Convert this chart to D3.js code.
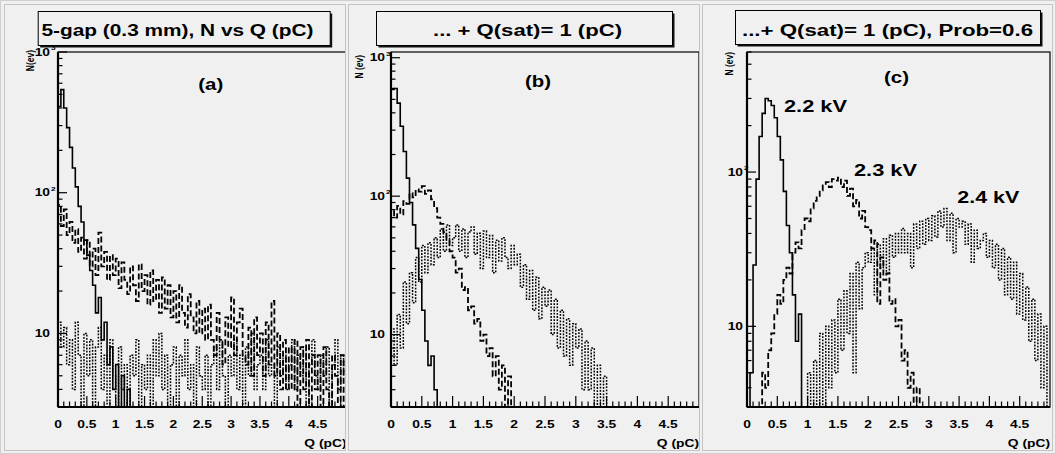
<!DOCTYPE html>
<html>
<head>
<meta charset="utf-8">
<script src="https://cdn.jsdelivr.net/npm/d3@7"></script>
<style>
  body { margin: 0; background: #f0f0f0; }
  text { font-family: "Liberation Sans", Arial, Helvetica, sans-serif; font-weight: bold; fill: #000; }
</style>
</head>
<body>
<svg id="chart" width="1056" height="454"></svg>
<script>
// ---- data: counts per 0.05 pC bin, Q from 0 to 5 pC (100 bins) ----
const binWidth = 0.05;
const qRange = [0, 5];

// panel (a): 5-gap, N vs Q
const a22 = [
  410, 540, 400, 290, 210, 150, 110, 80, 62, 46,
  36, 28, 22, 14, 18, 9, 12, 6, 8, 4,
  6, 3, 5, 2, 4, 0, 3, 3, 0, 0,
  0, 0, 0, 0, 0, 0, 0, 0, 0, 0,
  0, 0, 0, 0, 0, 0, 0, 0, 0, 0,
  0, 0, 0, 0, 0, 0, 0, 0, 0, 0,
  0, 0, 0, 0, 0, 0, 0, 0, 0, 0,
  0, 0, 0, 0, 0, 0, 0, 0, 0, 0,
  0, 0, 0, 0, 0, 0, 0, 0, 0, 0,
  0, 0, 0, 0, 0, 0, 0, 0, 0, 0
];
const a23 = [
  82, 58, 76, 50, 62, 44, 55, 38, 48, 34,
  46, 30, 40, 26, 52, 30, 38, 24, 36, 26,
  34, 21, 32, 24, 19, 30, 22, 17, 31, 20,
  26, 16, 28, 17, 24, 14, 25, 15, 22, 13,
  20, 12, 22, 14, 11, 19, 13, 10, 17, 10,
  15, 9, 16, 9, 7, 14, 9, 6, 13, 8,
  18, 7, 12, 15, 7, 6, 11, 5, 13, 7,
  10, 5, 12, 6, 17, 5, 10, 4, 9, 4,
  8, 4, 9, 3, 8, 4, 9, 3, 7, 4,
  7, 3, 8, 4, 3, 7, 5, 3, 7, 3
];
const a24 = [
  12, 8, 11, 6, 9, 4, 12, 7, 3, 10,
  5, 9, 3, 8, 11, 4, 7, 2, 9, 5,
  3, 8, 4, 6, 2, 7, 5, 9, 3, 6,
  4, 7, 3, 9, 5, 10, 4, 7, 3, 6,
  8, 3, 7, 5, 9, 4, 6, 3, 8, 5,
  4, 7, 3, 6, 8, 4, 9, 5, 3, 7,
  5, 9, 4, 7, 3, 8, 5, 10, 4, 6,
  7, 4, 9, 5, 6, 3, 8, 5, 7, 4,
  6, 9, 4, 7, 5, 8, 3, 6, 9, 5,
  4, 7, 5, 8, 3, 6, 9, 4, 7, 5
];

// panel (b): + Q(sat) = 1 pC
const b22 = [
  590, 600, 470, 320, 210, 135, 90, 62, 42, 25,
  15, 9, 6, 7, 4, 3, 0, 0, 0, 0,
  0, 0, 0, 0, 0, 0, 0, 0, 0, 0,
  0, 0, 0, 0, 0, 0, 0, 0, 0, 0,
  0, 0, 0, 0, 0, 0, 0, 0, 0, 0,
  0, 0, 0, 0, 0, 0, 0, 0, 0, 0,
  0, 0, 0, 0, 0, 0, 0, 0, 0, 0,
  0, 0, 0, 0, 0, 0, 0, 0, 0, 0,
  0, 0, 0, 0, 0, 0, 0, 0, 0, 0,
  0, 0, 0, 0, 0, 0, 0, 0, 0, 0
];
const b23 = [
  78, 70, 85, 74, 92, 88, 105, 98, 112, 108,
  118, 104, 110, 95, 82, 70, 63, 55, 48, 40,
  36, 28, 30, 21, 22, 15, 16, 12, 13, 9,
  10, 7, 8, 5, 7, 4, 6, 3, 5, 2,
  0, 0, 0, 0, 0, 0, 0, 0, 0, 0,
  0, 0, 0, 0, 0, 0, 0, 0, 0, 0,
  0, 0, 0, 0, 0, 0, 0, 0, 0, 0,
  0, 0, 0, 0, 0, 0, 0, 0, 0, 0,
  0, 0, 0, 0, 0, 0, 0, 0, 0, 0,
  0, 0, 0, 0, 0, 0, 0, 0, 0, 0
];
const b24 = [
  11, 6, 14, 8, 24, 12, 28, 17, 36, 24,
  44, 28, 46, 32, 50, 36, 58, 40, 62, 44,
  50, 62, 40, 58, 36, 55, 60, 38, 54, 30,
  56, 36, 52, 28, 48, 34, 50, 36, 30, 44,
  32, 38, 22, 32, 18, 29, 15, 26, 13, 22,
  16, 21, 10, 18, 8, 15, 7, 13, 6, 12,
  8, 11, 4, 9, 4, 8, 2, 6, 2, 5,
  0, 3, 0, 3, 0, 0, 0, 0, 0, 0,
  0, 0, 0, 0, 0, 0, 0, 0, 0, 0,
  0, 0, 0, 0, 0, 0, 0, 0, 0, 0
];

// panel (c): + Q(sat) = 1 pC, Prob = 0.6
const c22 = [
  0, 5, 25, 90, 170, 240, 300, 290, 270, 225,
  170, 120, 75, 45, 30, 16, 8, 12, 3, 0,
  0, 0, 0, 0, 0, 0, 0, 0, 0, 0,
  0, 0, 0, 0, 0, 0, 0, 0, 0, 0,
  0, 0, 0, 0, 0, 0, 0, 0, 0, 0,
  0, 0, 0, 0, 0, 0, 0, 0, 0, 0,
  0, 0, 0, 0, 0, 0, 0, 0, 0, 0,
  0, 0, 0, 0, 0, 0, 0, 0, 0, 0,
  0, 0, 0, 0, 0, 0, 0, 0, 0, 0,
  0, 0, 0, 0, 0, 0, 0, 0, 0, 0
];
const c23 = [
  0, 0, 0, 0, 3, 5, 4, 7, 9, 12,
  16, 14, 20, 24, 22, 30, 35, 32, 42, 50,
  48, 58, 65, 70, 76, 82, 86, 80, 90, 88,
  92, 80, 88, 70, 78, 60, 66, 50, 56, 44,
  42, 32, 36, 14, 28, 20, 22, 14, 15, 10,
  11, 6, 7, 4, 5, 3, 4, 0, 0, 0,
  0, 0, 0, 0, 0, 0, 0, 0, 0, 0,
  0, 0, 0, 0, 0, 0, 0, 0, 0, 0,
  0, 0, 0, 0, 0, 0, 0, 0, 0, 0,
  0, 0, 0, 0, 0, 0, 0, 0, 0, 0
];
const c24 = [
  0, 0, 0, 0, 0, 0, 0, 0, 0, 0,
  0, 0, 0, 0, 0, 0, 0, 0, 0, 3,
  5, 2, 6, 3, 9, 2, 10, 4, 11, 5,
  15, 7, 17, 9, 22, 5, 26, 13, 24, 30,
  26, 32, 16, 34, 24, 37, 22, 39, 28, 40,
  30, 43, 30, 40, 24, 46, 32, 48, 34, 50,
  36, 52, 38, 56, 44, 58, 36, 54, 30, 50,
  44, 48, 34, 46, 26, 42, 32, 36, 40, 28,
  36, 24, 34, 20, 32, 16, 28, 15, 26, 12,
  22, 11, 18, 8, 15, 6, 12, 4, 10, 3
];

const titles = ["5-gap (0.3 mm), N vs Q (pC)", "... + Q(sat)= 1 (pC)", "...+ Q(sat)= 1 (pC), Prob=0.6"];
const panelTags = ["(a)", "(b)", "(c)"];
const yTitles = ["N(ev)", "N (ev)", "N (ev)"];
const xTitle = "Q (pC)";
const voltageLabels = ["2.2 kV", "2.3 kV", "2.4 kV"];
const xTickValues = [0, 0.5, 1, 1.5, 2, 2.5, 3, 3.5, 4, 4.5];
const xTickLabels = ["0", "0.5", "1", "1.5", "2", "2.5", "3", "3.5", "4", "4.5"];
const yTickValues = [10, 100, 1000];
const yTickExps = ["", "2", "3"];
const yMaxes = [1000, 1100, 600];
const yMin = 3;

// ---- layout ----
const SX = 1.38; // the picture is stretched horizontally
const styles = [
  { dash: null, width: 1.6 },
  { dash: "6,3", width: 1.8 },
  { dash: "1.8,1.4", width: 1.5 }
];
const panels = [
  { pad: [4, 4, 341, 446], frame: [58, 346.5, 52, 407], box: [37.7, 11, 292, 34], titleX: 177.5, titleW: 272,
    tag: [210.7, 90, 25], yTitle: [34, 50], yGap: 8, series: [a22, a23, a24] },
  { pad: [348, 4, 351, 446], frame: [391, 699, 52, 407], box: [376, 11, 296, 34], titleX: 527.5, titleW: 189,
    tag: [538, 86.6, 26], yTitle: [362.5, 55], yGap: 6, series: [b22, b23, b24] },
  { pad: [702, 4, 350, 446], frame: [747, 1050, 52, 407], box: [735, 10, 305, 34], titleX: 887.5, titleW: 291,
    tag: [896.5, 83, 25], yTitle: [732.5, 52], yGap: 4, series: [c22, c23, c24] }
];
const voltagePos = [[784, 111.7, 63], [854, 176, 63], [957.3, 202.7, 62]];

const svg = d3.select("#chart");
svg.append("rect").attr("x", 0.5).attr("y", 0.5).attr("width", 1055).attr("height", 453)
  .attr("fill", "#f0f0f0").attr("stroke", "#cfcfcf");

function stretchText(g, x, y, str, size, anchor, width) {
  const t = g.append("text")
    .attr("transform", `translate(${x},${y}) scale(${SX},1)`)
    .attr("font-size", size)
    .attr("text-anchor", anchor || "start")
    .text(str);
  if (width) {
    t.attr("transform", `translate(${x},${y})`)
      .attr("textLength", width).attr("lengthAdjust", "spacingAndGlyphs");
  }
  return t;
}

panels.forEach((p, pi) => {
  const [px, py, pw, ph] = p.pad;
  const [l, r, t, b] = p.frame;
  const ymax = yMaxes[pi];

  svg.append("clipPath").attr("id", "pad" + pi)
    .append("rect").attr("x", px).attr("y", py).attr("width", pw).attr("height", ph);
  svg.append("clipPath").attr("id", "frame" + pi)
    .append("rect").attr("x", l).attr("y", t).attr("width", r - l).attr("height", b - t);

  // pad border
  svg.append("rect").attr("x", px + 0.5).attr("y", py + 0.5).attr("width", pw).attr("height", ph)
    .attr("fill", "#f0f0f0").attr("stroke", "#c4c4c4");

  const g = svg.append("g").attr("clip-path", `url(#pad${pi})`);

  const x = d3.scaleLinear().domain(qRange).range([l, r]);
  const y = d3.scaleLog().domain([yMin, ymax]).range([b, t]);

  // histograms
  const hg = g.append("g").attr("clip-path", `url(#frame${pi})`);
  const line = d3.line();
  p.series.forEach((vals, si) => {
    const pts = [[x(0), b]];
    vals.forEach((v, i) => {
      const yy = v > yMin ? y(Math.min(v, ymax)) : b;
      pts.push([x(i * binWidth), yy], [x((i + 1) * binWidth), yy]);
    });
    pts.push([x(vals.length * binWidth), b]);
    hg.append("path").attr("d", line(pts))
      .attr("fill", "none").attr("stroke", "#000")
      .attr("stroke-width", styles[si].width)
      .attr("stroke-dasharray", styles[si].dash)
      .attr("stroke-linejoin", "miter");
  });

  // frame
  g.append("rect").attr("x", l).attr("y", t).attr("width", r - l).attr("height", b - t)
    .attr("fill", "none").attr("stroke", "#000").attr("stroke-width", 1.2);
  g.append("line").attr("x1", l).attr("x2", r).attr("y1", b).attr("y2", b)
    .attr("stroke", "#000").attr("stroke-width", 2.2);
  g.append("line").attr("x1", l).attr("x2", l).attr("y1", t).attr("y2", b)
    .attr("stroke", "#000").attr("stroke-width", 2.2);

  // x ticks: major each 0.5, minor each 0.1
  const minor = d3.range(0, 50).map(i => i / 10);
  minor.forEach(q => {
    const major = Math.abs(q * 2 - Math.round(q * 2)) < 1e-6;
    g.append("line").attr("x1", x(q)).attr("x2", x(q))
      .attr("y1", b).attr("y2", b - (major ? 11 : 5.5))
      .attr("stroke", "#000").attr("stroke-width", 1.2);
  });
  xTickValues.forEach((q, i) => {
    stretchText(g, x(q), 428, xTickLabels[i], 10, "middle");
  });
  stretchText(g, r, 446.5, xTitle, 10, "end");

  // y ticks (log)
  [1, 10, 100, 1000].forEach(dec => {
    d3.range(1, 10).forEach(k => {
      const v = k * dec;
      if (v < yMin || v > ymax) return;
      g.append("line").attr("x1", l).attr("x2", l + (k === 1 ? 9 : 4.5))
        .attr("y1", y(v)).attr("y2", y(v))
        .attr("stroke", "#000").attr("stroke-width", 1.2);
    });
  });
  yTickValues.forEach((v, i) => {
    if (v > ymax) return;
    const bx = l - p.yGap;
    stretchText(g, bx, y(v) + 3.6, "10", 10, "end");
    if (yTickExps[i]) stretchText(g, bx + 1, y(v) - 2.2, yTickExps[i], 6, "start");
  });

  // y title, rotated
  g.append("text")
    .attr("transform", `translate(${p.yTitle[0]},${p.yTitle[1]}) scale(${SX},1) rotate(-90)`)
    .attr("font-size", 8.5).attr("text-anchor", "end").text(yTitles[pi]);

  // panel tag
  stretchText(g, p.tag[0] - p.tag[2] / 2, p.tag[1], panelTags[pi], 16, "start", p.tag[2]);

  // title box with shadow
  const [bx, by, bw, bh] = p.box;
  g.append("rect").attr("x", bx + 2.5).attr("y", by + 2.5).attr("width", bw).attr("height", bh).attr("fill", "#111");
  g.append("rect").attr("x", bx + 0.5).attr("y", by + 0.5).attr("width", bw).attr("height", bh)
    .attr("fill", "#f0f0f0").attr("stroke", "#000").attr("stroke-width", 1);
  stretchText(g, p.titleX - p.titleW / 2, 36, titles[pi], 16, "start", p.titleW);
});

// voltage labels in panel (c)
voltageLabels.forEach((s, i) => {
  const [vx, vy, vw] = voltagePos[i];
  stretchText(svg, vx, vy, s, 16, "start", vw);
});
</script>
</body>
</html>
